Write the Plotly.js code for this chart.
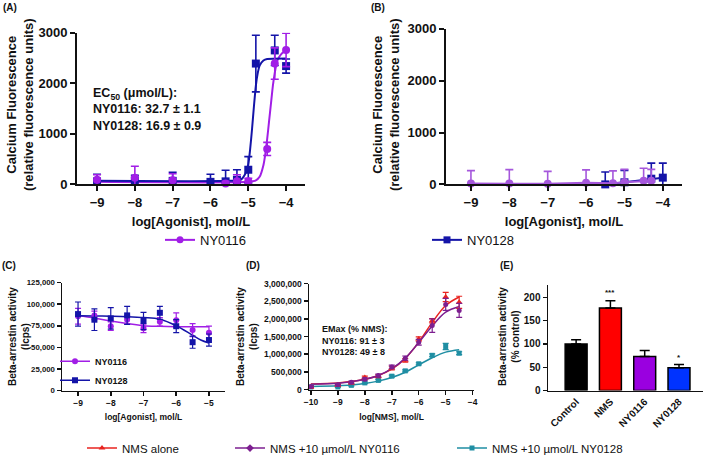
<!DOCTYPE html>
<html><head><meta charset="utf-8">
<script src="https://cdn.plot.ly/plotly-3.0.1.min.js"></script>
<style>html,body{margin:0;padding:0;background:#fff}#chart{width:709px;height:463px}</style>
</head><body><div id="chart"></div>
<script>
// ---------- Panel A : calcium fluorescence ----------
const aNY0116X = [-9, -8, -7, -5.6, -5.3, -5.0, -4.5, -4.3, -4.0];
const aNY0116Y = [90, 130, 80, 20, 60, 60, 700, 2390, 2660];
const aNY0116E = [100, 230, 130, 40, 130, 60, 130, 310, 330];
const aNY0128X = [-9, -8, -7, -6, -5.6, -5.3, -5.0, -4.8, -4.3, -4.0];
const aNY0128Y = [60, 80, 70, 50, 60, 90, 290, 2390, 2650, 2340];
const aNY0128E = [140, 100, 170, 150, 220, 200, 260, 560, 300, 140];
const aFit0116X = [-9.05, -5.0, -4.8, -4.7, -4.6, -4.55, -4.5, -4.45, -4.4, -4.35, -4.3, -4.25, -4.2, -4.1, -4.0];
const aFit0116Y = [50, 50, 80, 150, 380, 600, 900, 1250, 1600, 1950, 2200, 2400, 2500, 2600, 2640];
const aFit0128X = [-9.05, -5.5, -5.2, -5.1, -5.0, -4.95, -4.9, -4.85, -4.8, -4.75, -4.7, -4.6, -4.5, -4.0];
const aFit0128Y = [70, 70, 90, 180, 400, 700, 1100, 1550, 1950, 2200, 2350, 2450, 2480, 2490];
// ---------- Panel B ----------
const bNY0116X = [-9, -8, -7, -6, -5.3, -5.0, -4.5, -4.3];
const bNY0116Y = [15, 15, 10, 30, 20, 40, 70, 70];
const bNY0116E = [250, 270, 240, 250, 240, 250, 240, 220];
const bNY0128X = [-5.5, -5.0, -4.3, -4.0];
const bNY0128Y = [0, 40, 110, 130];
const bNY0128E = [240, 230, 300, 280];
// ---------- Panel C : beta-arrestin, agonists ----------
const cX = [-9, -8.5, -8, -7.5, -7, -6.5, -6, -5.5, -5];
const cNY0116Y = [86000, 87000, 74500, 82000, 72000, 79500, 81500, 70000, 67000];
const cNY0116E = [9000, 5000, 5000, 5000, 5000, 5000, 8500, 7500, 7500];
const cNY0128Y = [88500, 82000, 83500, 87000, 80500, 90000, 74500, 56000, 58500];
const cNY0128E = [14000, 12500, 12500, 10500, 10000, 7500, 7500, 7000, 7000];
const cFitX = [-9, -8.5, -8, -7.5, -7, -6.5, -6, -5.5, -5.25, -5];
const cFit0116Y = [86500, 84000, 80500, 77500, 75000, 74300, 74000, 74000, 74000, 74000];
const cFit0128Y = [86500, 86300, 86000, 85500, 84500, 82500, 75000, 64000, 58500, 55000];
// ---------- Panel D : NMS ----------
const dX = [-10, -9, -8.5, -8, -7.5, -7, -6.5, -6, -5.5, -5, -4.5];
const dNmsY = [70000, 120000, 190000, 340000, 380000, 610000, 830000, 1430000, 1950000, 2620000, 2470000];
const dNmsE = [20000, 20000, 30000, 40000, 40000, 50000, 50000, 60000, 60000, 130000, 170000];
const dNY0116Y = [90000, 140000, 210000, 290000, 400000, 640000, 890000, 1340000, 1810000, 2410000, 2240000];
const dNY0116E = [20000, 20000, 30000, 40000, 40000, 50000, 60000, 80000, 190000, 170000, 200000];
const dNY0128Y = [75000, 75000, 120000, 190000, 260000, 380000, 530000, 730000, 970000, 1220000, 1030000];
const dNY0128E = [15000, 15000, 20000, 20000, 30000, 30000, 30000, 30000, 40000, 90000, 40000];
const dFitX = [-10, -9, -8.5, -8, -7.5, -7, -6.5, -6, -5.5, -5, -4.5];
const dFitNmsY = [160000, 190000, 230000, 290000, 400000, 580000, 880000, 1340000, 1900000, 2380000, 2620000];
const dFit0116Y = [150000, 180000, 220000, 290000, 400000, 590000, 890000, 1330000, 1800000, 2190000, 2350000];
const dFit0128Y = [90000, 110000, 130000, 170000, 240000, 340000, 490000, 700000, 900000, 1060000, 1130000];
// ---------- Panel E ----------
const eCats = ['Control', 'NMS', 'NY0116', 'NY0128'];
const eVals = [100, 177, 73, 49];
const eErrs = [9, 16, 13, 7];
const eSig = ['', '***', '', '*'];

const W = 709, H = 463;
const px = v => v / W, py = v => 1 - v / H;
const FONT = 'Liberation Sans, Arial, sans-serif';
const INK = '#111111';
const P116 = '#a11ee6', B128 = '#1414a8', P116b = '#a557dc';
const RED = '#e8231f', DPUR = '#7d1f90', TEAL = '#1f8ea3';

function ax(dom, rng, o) {
  return Object.assign({
    domain: dom, range: rng, showline: true, linecolor: INK, linewidth: 2,
    ticks: 'outside', ticklen: 5, tickwidth: 2, tickcolor: INK,
    showgrid: false, zeroline: false, fixedrange: true,
    tickfont: {family: FONT, size: 13, color: INK, weight: 'bold'}
  }, o || {});
}
const errA = (arr, c) => ({type: 'data', array: arr, color: c, thickness: 1.6, width: 4});
const errS = (arr, c) => ({type: 'data', array: arr, color: c, thickness: 1.2, width: 3});

const traces = [
  // A
  {x: aFit0116X, y: aFit0116Y, xaxis: 'x', yaxis: 'y', mode: 'lines', line: {color: P116, width: 2, shape: 'spline', smoothing: 0.6}, showlegend: false, cliponaxis: false},
  {x: aFit0128X, y: aFit0128Y, xaxis: 'x', yaxis: 'y', mode: 'lines', line: {color: B128, width: 2, shape: 'spline', smoothing: 0.6}, showlegend: false, cliponaxis: false},
  {x: aNY0128X, y: aNY0128Y, xaxis: 'x', yaxis: 'y', mode: 'markers', marker: {symbol: 'square', size: 8, color: B128}, error_y: errA(aNY0128E, B128), showlegend: false, cliponaxis: false},
  {x: aNY0116X, y: aNY0116Y, xaxis: 'x', yaxis: 'y', mode: 'markers', marker: {symbol: 'circle', size: 8, color: P116}, error_y: errA(aNY0116E, P116), showlegend: false, cliponaxis: false},
  {x: [null], y: [null], xaxis: 'x', yaxis: 'y', name: 'NY0116', mode: 'lines+markers', line: {color: P116, width: 2}, marker: {symbol: 'circle', size: 7, color: P116}, legend: 'legend'},
  {x: [null], y: [null], xaxis: 'x2', yaxis: 'y2', name: 'NY0128', mode: 'lines+markers', line: {color: B128, width: 2}, marker: {symbol: 'square', size: 7, color: B128}, legend: 'legend2'},
  // B
  {x: bNY0128X, y: bNY0128Y, xaxis: 'x2', yaxis: 'y2', mode: 'lines+markers', line: {color: B128, width: 2}, marker: {symbol: 'square', size: 8, color: B128}, error_y: errA(bNY0128E, B128), showlegend: false, cliponaxis: false},
  {x: bNY0116X, y: bNY0116Y, xaxis: 'x2', yaxis: 'y2', mode: 'lines+markers', line: {color: P116b, width: 2}, marker: {symbol: 'circle', size: 8, color: P116b}, error_y: errA(bNY0116E, P116b), showlegend: false, cliponaxis: false},
  // C
  {x: cFitX, y: cFit0116Y, xaxis: 'x3', yaxis: 'y3', mode: 'lines', line: {color: P116, width: 1.5, shape: 'spline'}, showlegend: false},
  {x: cFitX, y: cFit0128Y, xaxis: 'x3', yaxis: 'y3', mode: 'lines', line: {color: B128, width: 1.5, shape: 'spline'}, showlegend: false},
  {x: cX, y: cNY0116Y, xaxis: 'x3', yaxis: 'y3', mode: 'markers', marker: {symbol: 'circle', size: 6, color: P116}, error_y: errS(cNY0116E, P116), showlegend: false, cliponaxis: false},
  {x: cX, y: cNY0128Y, xaxis: 'x3', yaxis: 'y3', mode: 'markers', marker: {symbol: 'square', size: 6, color: B128}, error_y: errS(cNY0128E, B128), showlegend: false, cliponaxis: false},
  {x: [null], y: [null], xaxis: 'x3', yaxis: 'y3', name: 'NY0116', mode: 'lines+markers', line: {color: P116, width: 1.5}, marker: {symbol: 'circle', size: 6, color: P116}, legend: 'legend3'},
  {x: [null], y: [null], xaxis: 'x3', yaxis: 'y3', name: 'NY0128', mode: 'lines+markers', line: {color: B128, width: 1.5}, marker: {symbol: 'square', size: 6, color: B128}, legend: 'legend3'},
  // D
  {x: dFitX, y: dFit0128Y, xaxis: 'x4', yaxis: 'y4', mode: 'lines', line: {color: TEAL, width: 1.5, shape: 'spline'}, showlegend: false},
  {x: dFitX, y: dFitNmsY, xaxis: 'x4', yaxis: 'y4', mode: 'lines', line: {color: RED, width: 1.5, shape: 'spline'}, showlegend: false},
  {x: dFitX, y: dFit0116Y, xaxis: 'x4', yaxis: 'y4', mode: 'lines', line: {color: DPUR, width: 1.5, shape: 'spline'}, showlegend: false},
  {x: dX, y: dNY0128Y, xaxis: 'x4', yaxis: 'y4', mode: 'markers', marker: {symbol: 'square', size: 5, color: TEAL}, error_y: errS(dNY0128E, TEAL), showlegend: false, cliponaxis: false},
  {x: dX, y: dNmsY, xaxis: 'x4', yaxis: 'y4', mode: 'markers', marker: {symbol: 'triangle-up', size: 6, color: RED}, error_y: errS(dNmsE, RED), showlegend: false, cliponaxis: false},
  {x: dX, y: dNY0116Y, xaxis: 'x4', yaxis: 'y4', mode: 'markers', marker: {symbol: 'circle', size: 5, color: DPUR}, error_y: errS(dNY0116E, DPUR), showlegend: false, cliponaxis: false},
  {x: [null], y: [null], xaxis: 'x4', yaxis: 'y4', name: 'NMS alone', mode: 'lines+markers', line: {color: RED, width: 1.5}, marker: {symbol: 'triangle-up', size: 6, color: RED}, legend: 'legend4'},
  {x: [null], y: [null], xaxis: 'x4', yaxis: 'y4', name: 'NMS +10 µmol/L NY0116', mode: 'lines+markers', line: {color: DPUR, width: 1.5}, marker: {symbol: 'diamond', size: 6, color: DPUR}, legend: 'legend5'},
  {x: [null], y: [null], xaxis: 'x4', yaxis: 'y4', name: 'NMS +10 µmol/L NY0128', mode: 'lines+markers', line: {color: TEAL, width: 1.5}, marker: {symbol: 'square', size: 5, color: TEAL}, legend: 'legend6'},
  // E
  {x: eCats, y: eVals, xaxis: 'x5', yaxis: 'y5', type: 'bar', width: 0.64,
   marker: {color: ['#000000', '#ff0000', '#9a00e0', '#0033ff'], line: {color: '#000', width: 1.5}},
   error_y: {type: 'data', array: eErrs, arrayminus: [0, 0, 0, 0], symmetric: false, color: '#000', thickness: 1.5, width: 5},
   showlegend: false}
];

const smallTick = s => ({family: FONT, size: s, color: INK, weight: 'bold'});
function note(text, x, y, size, extra) {
  return Object.assign({text: text, x: px(x), y: py(y), xref: 'paper', yref: 'paper', xanchor: 'center', yanchor: 'middle',
    showarrow: false, font: {family: FONT, size: size, weight: 'bold', color: INK}}, extra || {});
}
const legBase = (x, y, size, weight) => ({x: px(x), y: py(y), xanchor: 'left', yanchor: 'middle', bgcolor: 'rgba(0,0,0,0)', itemwidth: 30,
  font: {family: FONT, size: size, color: INK, weight: weight || 'normal'}, tracegroupgap: 0});

const layout = {
  width: W, height: H, margin: {l: 0, r: 0, t: 0, b: 0},
  paper_bgcolor: '#fff', plot_bgcolor: 'rgba(0,0,0,0)',
  font: {family: FONT, color: INK},
  // A
  xaxis: ax([px(77), px(305)], [-9.53, -3.5], {anchor: 'y', tickvals: [-9, -8, -7, -6, -5, -4],
    title: {text: 'log[Agonist], mol/L', font: {family: FONT, size: 13, weight: 'bold', color: INK}, standoff: 8}}),
  yaxis: ax([py(186), py(33)], [0, 3000], {anchor: 'x', tickvals: [0, 1000, 2000, 3000]}),
  // B
  xaxis2: ax([px(446), px(682)], [-9.65, -3.5], {anchor: 'y2', tickvals: [-9, -8, -7, -6, -5, -4],
    title: {text: 'log[Agonist], mol/L', font: {family: FONT, size: 13, weight: 'bold', color: INK}, standoff: 8}}),
  yaxis2: ax([py(186), py(29)], [0, 3000], {anchor: 'x2', tickvals: [0, 1000, 2000, 3000]}),
  // C
  xaxis3: ax([px(62), px(225)], [-9.49, -4.51], {anchor: 'y3', tickvals: [-9, -8, -7, -6, -5], linewidth: 1.5, tickwidth: 1.5, ticklen: 4,
    tickfont: smallTick(8.5),
    title: {text: 'log[Agonist], mol/L', font: {family: FONT, size: 8.5, weight: 'bold', color: INK}, standoff: 7}}),
  yaxis3: ax([py(394), py(285)], [0, 125000], {anchor: 'x3', tickvals: [0, 25000, 50000, 75000, 100000, 125000], tickformat: ',',
    linewidth: 1.5, tickwidth: 1.5, ticklen: 4, tickfont: smallTick(7.8)}),
  // D
  xaxis4: ax([px(309), px(474)], [-10.07, -3.95], {anchor: 'y4', tickvals: [-10, -9, -8, -7, -6, -5, -4], linewidth: 1.5, tickwidth: 1.5, ticklen: 4,
    tickfont: smallTick(8.5),
    title: {text: 'log[NMS], mol/L', font: {family: FONT, size: 8.5, weight: 'bold', color: INK}, standoff: 7}}),
  yaxis4: ax([py(393), py(286)], [0, 3000000], {anchor: 'x4', tickvals: [0, 500000, 1000000, 1500000, 2000000, 2500000, 3000000], tickformat: ',',
    linewidth: 1.5, tickwidth: 1.5, ticklen: 4, tickfont: smallTick(8.5)}),
  // E
  xaxis5: ax([px(548), px(703)], [-0.82, 3.7], {anchor: 'y5', type: 'category', ticks: '', linewidth: 1.5, tickangle: -45,
    tickfont: smallTick(10)}),
  yaxis5: ax([py(394), py(287)], [0, 227.6], {anchor: 'x5', tickvals: [0, 50, 100, 150, 200], linewidth: 1.5, tickwidth: 1.5, ticklen: 4,
    tickfont: smallTick(10)}),
  legend: legBase(160, 242, 13),
  legend2: legBase(427, 242, 13),
  legend3: legBase(55, 374, 9, 'bold'),
  legend4: legBase(82, 452, 11.5),
  legend5: legBase(230, 452, 11.5),
  legend6: legBase(452, 452, 11.5),
  annotations: [
    note('(A)', 10, 8, 10),
    note('(B)', 378, 8, 10),
    note('(C)', 9, 268, 10),
    note('(D)', 253, 268, 10),
    note('(E)', 506, 268, 10),
    note('Calcium Fluorescence<br>(relative fluorescence units)', 20, 106, 13, {textangle: -90}),
    note('Calcium Fluorescence<br>(relative fluorescence units)', 386, 106, 13, {textangle: -90}),
    note('EC<sub>50</sub> (μmol/L):<br>NY0116: 32.7 ± 1.1<br>NY0128: 16.9 ± 0.9', 91, 110, 12.5, {xanchor: 'left', align: 'left'}),
    note('Beta-arrestin activity<br>(lcps)', 19, 340, 10, {textangle: -90}),
    note('Beta-arrestin activity<br>(lcps)', 247, 340, 10, {textangle: -90}),
    note('EMax (% NMS):<br>NY0116: 91 ± 3<br>NY0128: 49 ± 8', 320, 343, 9, {xanchor: 'left', align: 'left'}),
    note('Beta-arrestin activity<br>(% control)', 509, 340, 10, {textangle: -90}),
    {text: eSig[1], x: eCats[1], y: eVals[1] + eErrs[1] + 3, xref: 'x5', yref: 'y5', xanchor: 'center', yanchor: 'bottom', showarrow: false, font: {family: FONT, size: 8, weight: 'bold', color: INK}},
    {text: eSig[3], x: eCats[3], y: eVals[3] + eErrs[3] + 2, xref: 'x5', yref: 'y5', xanchor: 'center', yanchor: 'bottom', showarrow: false, font: {family: FONT, size: 8, weight: 'bold', color: INK}}
  ]
};

Plotly.newPlot('chart', traces, layout, {staticPlot: true, displayModeBar: false});
</script></body></html>
